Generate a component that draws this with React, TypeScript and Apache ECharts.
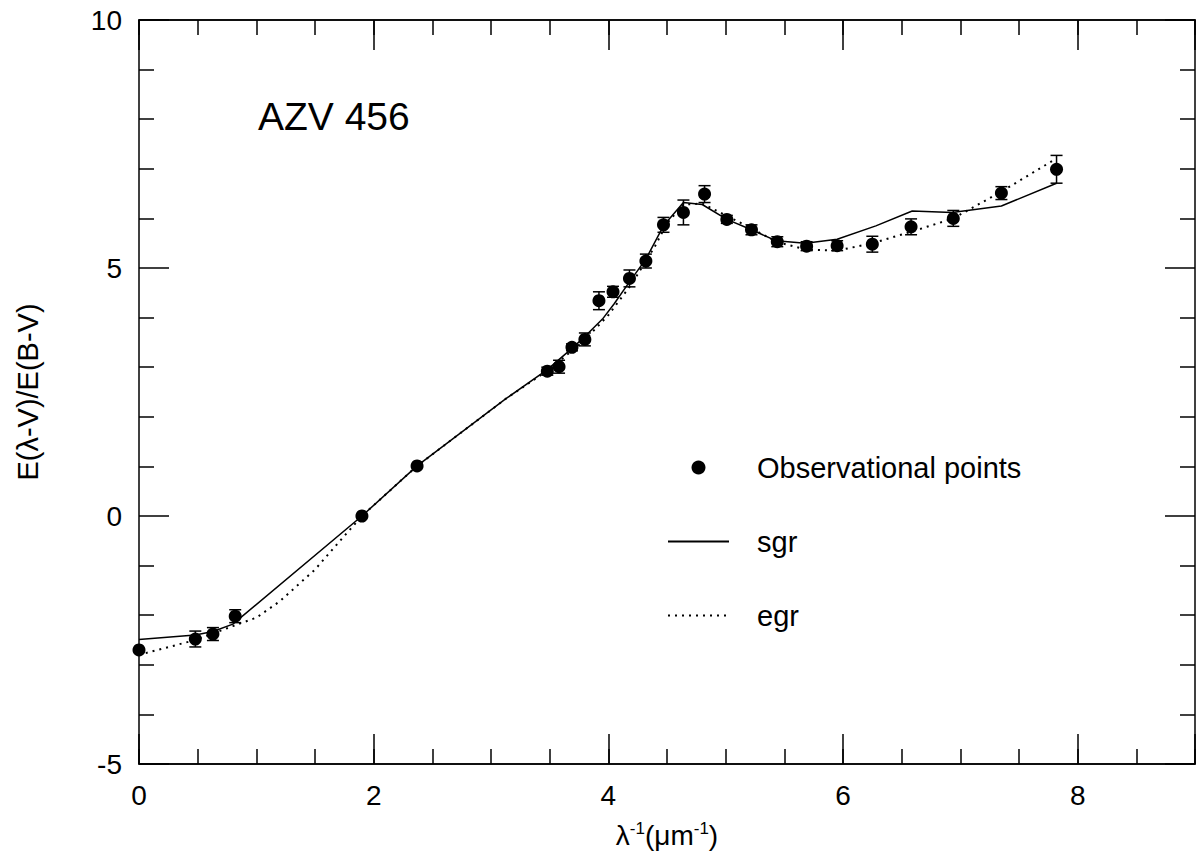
import React, { useEffect, useRef } from "react";
import * as echarts from "echarts";

// Observational points: x = 1/lambda (um^-1), y = E(lambda-V)/E(B-V), symmetric error
const obsX = [0.0, 0.48, 0.63, 0.82, 1.9, 2.37, 3.48, 3.58, 3.69, 3.8, 3.92, 4.04, 4.18, 4.32, 4.47, 4.64, 4.82, 5.01, 5.22, 5.44, 5.69, 5.95, 6.25, 6.58, 6.94, 7.35, 7.82];
const obsY = [-2.7, -2.48, -2.38, -2.02, 0.0, 1.01, 2.92, 3.01, 3.4, 3.56, 4.34, 4.52, 4.79, 5.14, 5.87, 6.12, 6.49, 5.98, 5.77, 5.53, 5.44, 5.45, 5.48, 5.83, 6.0, 6.51, 6.99];
const obsErr = [0, 0.16, 0.13, 0.13, 0, 0, 0.08, 0.13, 0.07, 0.13, 0.18, 0.11, 0.17, 0.14, 0.15, 0.25, 0.17, 0.08, 0.1, 0.1, 0.09, 0.1, 0.16, 0.16, 0.16, 0.13, 0.28];

// sgr model curve (solid)
const sgrX = [0.0, 0.48, 0.63, 0.8, 1.9, 2.37, 3.13, 3.48, 3.69, 3.8, 3.95, 4.05, 4.18, 4.32, 4.47, 4.64, 4.8, 5.01, 5.22, 5.43, 5.68, 5.95, 6.28, 6.59, 6.93, 7.35, 7.82];
const sgrY = [-2.49, -2.4, -2.33, -2.18, 0.0, 1.01, 2.37, 2.95, 3.38, 3.62, 3.97, 4.28, 4.72, 5.18, 5.85, 6.32, 6.28, 5.98, 5.77, 5.55, 5.5, 5.58, 5.85, 6.15, 6.12, 6.25, 6.71];

// egr model curve (dotted)
const egrX = [0.0, 0.48, 0.63, 0.8, 1.0, 1.2, 1.5, 1.75, 1.9, 2.37, 3.13, 3.48, 3.69, 3.8, 4.0, 4.2, 4.4, 4.5, 4.64, 4.8, 5.01, 5.22, 5.43, 5.69, 5.95, 6.25, 6.58, 6.94, 7.35, 7.82];
const egrY = [-2.8, -2.5, -2.37, -2.22, -2.05, -1.72, -1.08, -0.4, 0.0, 1.01, 2.37, 2.93, 3.33, 3.55, 4.05, 4.68, 5.45, 5.9, 6.28, 6.3, 6.05, 5.8, 5.53, 5.37, 5.35, 5.5, 5.73, 6.0, 6.54, 7.21];

const xLabelTicks = ["0", "2", "4", "6", "8"];
const yLabelTicks = ["-5", "0", "5", "10"];

const seriesNames = ["Observational points", "sgr", "egr"];
const plotTitle = "AZV 456";

export default function App() {
  const ref = useRef<HTMLDivElement>(null);
  useEffect(() => {
    document.body.style.margin = "0";
    const chart = echarts.init(ref.current!, null, { renderer: "svg" });
    const FONT = "'Liberation Sans', Arial, Helvetica, sans-serif";
    const K = "#000";

    const obsData = obsX.map((x, i) => [x, obsY[i]]);
    const errData = obsX
      .map((x, i) => [x, obsY[i] - obsErr[i], obsY[i] + obsErr[i], obsErr[i]])
      .filter((d) => d[3] > 0);
    const sgrData = sgrX.map((x, i) => [x, sgrY[i]]);
    const egrData = egrX.map((x, i) => [x, egrY[i]]);

    const lineStyle = { color: K, width: 1.5 };
    const baseX = {
      type: "value",
      min: 0,
      max: 9,
      splitLine: { show: false },
      axisLine: { show: true, onZero: false, lineStyle },
    };
    const baseY = {
      type: "value",
      min: -5,
      max: 10,
      interval: 5,
      splitLine: { show: false },
      axisLine: { show: true, onZero: false, lineStyle },
      axisTick: { show: true, inside: true, length: 30, lineStyle },
      minorTick: { show: true, splitNumber: 5, length: 15, lineStyle },
    };
    const hiddenSymbol = { color: "rgba(0,0,0,0)", opacity: 0, borderWidth: 0 };

    const option: any = {
      animation: false,
      backgroundColor: "#fff",
      textStyle: { fontFamily: FONT },
      title: {
        text: plotTitle,
        left: 258,
        top: 97,
        padding: 0,
        textStyle: { fontSize: 39, fontWeight: "normal", color: K, fontFamily: FONT },
      },
      legend: {
        orient: "vertical",
        left: 667,
        top: 453,
        padding: 0,
        itemWidth: 61,
        itemHeight: 14,
        itemGap: 45,
        data: [
          { name: seriesNames[0] },
          { name: seriesNames[1], itemStyle: hiddenSymbol },
          { name: seriesNames[2], itemStyle: hiddenSymbol },
        ],
        textStyle: { fontSize: 29, color: K, fontFamily: FONT, padding: [0, 0, 0, 23] },
      },
      grid: { left: 139, right: 1, top: 20, bottom: 96 },
      xAxis: [
        {
          ...baseX,
          position: "bottom",
          interval: 2,
          axisTick: { show: true, inside: true, length: 30, lineStyle },
          axisLabel: {
            show: true,
            fontSize: 28,
            color: K,
            fontFamily: FONT,
            margin: 17,
            formatter: (v: number) => (xLabelTicks.includes(String(v)) ? String(v) : ""),
          },
          name: "λ{sup|-1}(μm{sup|-1})",
          nameLocation: "middle",
          nameGap: 56,
          nameTextStyle: {
            fontSize: 28,
            color: K,
            fontFamily: FONT,
            lineHeight: 30,
            rich: {
              sup: { fontSize: 17, lineHeight: 17, verticalAlign: "top", color: K, fontFamily: FONT },
            },
          },
        },
        {
          ...baseX,
          position: "bottom",
          interval: 0.5,
          axisTick: { show: true, inside: true, length: 15, lineStyle },
          axisLabel: { show: false },
        },
        {
          ...baseX,
          position: "top",
          interval: 2,
          axisTick: { show: true, inside: true, length: 30, lineStyle },
          axisLabel: { show: false },
        },
        {
          ...baseX,
          position: "top",
          interval: 0.5,
          axisTick: { show: true, inside: true, length: 15, lineStyle },
          axisLabel: { show: false },
        },
      ],
      yAxis: [
        {
          ...baseY,
          position: "left",
          axisLabel: {
            show: true,
            fontSize: 28,
            color: K,
            fontFamily: FONT,
            margin: 17,
            formatter: (v: number) => (yLabelTicks.includes(String(v)) ? String(v) : ""),
          },
          name: "E(λ-V)/E(B-V)",
          nameLocation: "middle",
          nameGap: 97,
          nameRotate: 90,
          nameTextStyle: { fontSize: 29, color: K, fontFamily: FONT },
        },
        {
          ...baseY,
          position: "right",
          axisLabel: { show: false },
        },
      ],
      series: [
        {
          name: "sgr",
          type: "line",
          data: sgrData,
          xAxisIndex: 0,
          yAxisIndex: 0,
          symbol: "none",
          smooth: false,
          lineStyle: { color: K, width: 1.5, type: "solid" },
          itemStyle: { color: K },
          z: 2,
        },
        {
          name: "egr",
          type: "line",
          data: egrData,
          xAxisIndex: 0,
          yAxisIndex: 0,
          symbol: "none",
          smooth: false,
          lineStyle: { color: K, width: 2, type: [2, 5], cap: "butt" },
          itemStyle: { color: K },
          z: 2,
        },
        {
          name: "errors",
          type: "custom",
          xAxisIndex: 0,
          yAxisIndex: 0,
          data: errData,
          encode: { x: 0, y: [1, 2] },
          z: 3,
          renderItem: (params: any, api: any) => {
            const x = api.value(0);
            const lo = api.coord([x, api.value(1)]);
            const hi = api.coord([x, api.value(2)]);
            const hw = 6;
            const style = { stroke: K, lineWidth: 1.5 };
            return {
              type: "group",
              children: [
                { type: "line", shape: { x1: lo[0], y1: lo[1], x2: hi[0], y2: hi[1] }, style },
                { type: "line", shape: { x1: lo[0] - hw, y1: lo[1], x2: lo[0] + hw, y2: lo[1] }, style },
                { type: "line", shape: { x1: hi[0] - hw, y1: hi[1], x2: hi[0] + hw, y2: hi[1] }, style },
              ],
            };
          },
        },
        {
          name: "Observational points",
          type: "scatter",
          data: obsData,
          xAxisIndex: 0,
          yAxisIndex: 0,
          symbol: "circle",
          symbolSize: 13,
          itemStyle: { color: K, opacity: 1 },
          z: 4,
        },
      ],
    };

    chart.setOption(option);
    return () => chart.dispose();
  }, []);
  return <div ref={ref} style={{ width: 1198, height: 860 }} />;
}
